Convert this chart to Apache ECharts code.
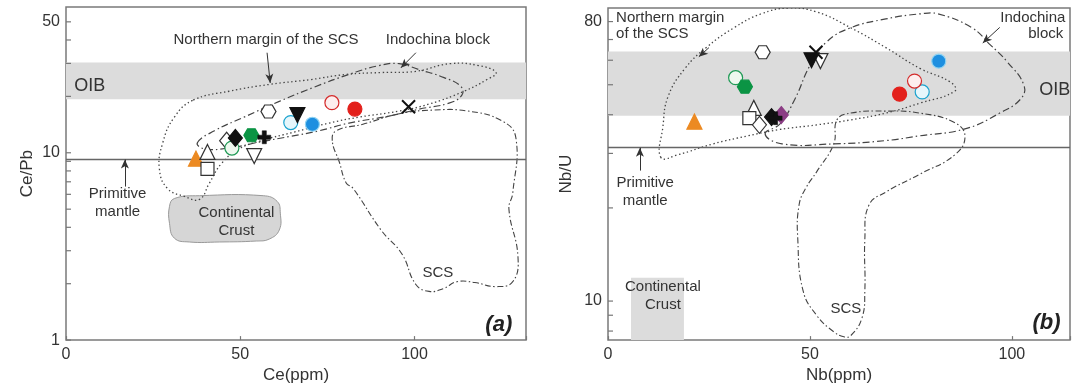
<!DOCTYPE html>
<html>
<head>
<meta charset="utf-8">
<script src="https://cdn.jsdelivr.net/npm/echarts@6/dist/echarts.min.js"></script>
<style>
  html, body { margin: 0; padding: 0; background: #fff; }
  #chart { width: 1078px; height: 389px; }
</style>
</head>
<body>
<div id="chart"></div>
<script>
// ---- sample groups (same order in both panels) ----
// Ce (ppm) and Ce/Pb for panel (a); null where a group is not plotted
const ce   = [37.3, 40.6, 40.6, 46.1, 47.6, 53.2, 54.0, 58.1, 64.5, 66.4, 70.7, 76.3, 82.9, 98.3, null, 48.6, 56.9];
const cePb = [9.3, 10.1, 8.2, 11.6, 10.6, 12.4, 9.6, 16.6, 14.5, 15.9, 14.2, 18.5, 17.1, 17.6, null, 12.0, 12.1];
// Nb (ppm) and Nb/U for panel (b)
const nb   = [21.4, 36.1, 35.0, 37.5, 31.6, 33.9, 52.6, 38.3, 77.8, 50.4, 81.9, 75.9, 72.2, 51.5, 42.9, 40.5, 41.5];
const nbU  = [38.0, 42.1, 39.0, 37.1, 52.7, 49.3, 59.6, 63.7, 47.4, 60.0, 59.6, 51.4, 46.6, 63.7, 39.9, 39.3, 39.0];

// ---- reference fields, panel (a): [Ce, Ce/Pb] ----
const northMarginA = [[36.5,19.1],[46.8,21.3],[58.6,23.2],[70.3,24.6],[80.4,26.2],[90.4,26.8],[100.4,27.2],[110.2,29.9],[118.5,29.2],[123.4,26.8],[120.8,24.6],[114.2,21.3],[104.2,18.2],[95.6,16.7],[84.1,15.5],[75.5,14.4],[65.5,12.9],[56.0,11.6],[49.7,10.5],[44.6,8.75],[41.1,6.86],[38.3,5.64],[34.0,5.85],[29.1,6.45],[26.8,8.2],[27.7,11.2],[31.1,15.5]];
const indochinaA = [[37.7,11.3],[42.6,13.1],[51.1,15.5],[61.2,18.8],[71.2,22.4],[81.2,26.2],[89.8,29.2],[95.6,29.9],[101.3,27.8],[108.5,25.2],[113.3,22.6],[113.6,20.3],[109.9,18.4],[101.3,17.1],[92.7,15.7],[81.2,14.4],[72.6,13.1],[64.0,12.2],[55.4,11.4],[46.8,10.6],[39.7,10.5]];
const scsA = [[76.4,11.6],[77.5,13.1],[85.2,14.2],[95.3,16.1],[105.3,16.9],[115.3,16.7],[125.1,14.8],[129.1,12.0],[128.2,6.1],[127.1,5.0],[129.7,2.78],[128.2,2.05],[123.4,1.93],[117.3,2.03],[112.2,2.05],[108.2,1.88],[104.2,1.82],[100.4,1.98],[96.4,2.88],[90.4,3.87],[82.4,6.45],[80.4,6.9],[78.4,8.96]];
const crustA = [[31.1,5.7],[38.3,5.9],[56.6,5.9],[60.6,5.5],[61.5,4.76],[61.2,3.87],[58.3,3.46],[54.6,3.38],[44.0,3.34],[35.4,3.34],[31.1,3.5],[29.7,4.2],[29.7,5.18]];
const oibA = [19.3, 30.3];     // Ce/Pb range of OIB
const pmA = 9.2;               // primitive mantle Ce/Pb

// ---- reference fields, panel (b): [Nb, Nb/U] ----
const northMarginB = [[13.1,29.1],[13.6,36.6],[14.9,45.9],[19.1,56.5],[24.3,65.9],[31.2,76.4],[37.9,84.7],[44.8,88.5],[51.7,85.9],[60.1,76.4],[68.8,65.9],[77.2,56.5],[84.9,50.9],[85.9,47.7],[77.2,43.6],[68.8,40.5],[60.1,38.5],[51.7,37.1],[42.3,35.8],[34.7,34.2],[26.0,32.2],[17.3,29.7]];
const indochinaB = [[38.9,34.7],[43.1,32.2],[55.9,32.2],[68.8,33.0],[77.2,34.2],[88.4,36.0],[97.0,40.5],[102.2,45.0],[103.0,49.8],[98.8,59.4],[94.6,67.4],[90.1,76.4],[81.7,84.7],[77.2,84.7],[68.8,81.6],[60.1,76.4],[54.2,68.9],[50.0,57.7],[46.3,45.0],[42.6,37.4]];
const scsB = [[60.1,40.5],[68.8,41.1],[77.2,40.5],[85.9,37.7],[88.4,34.0],[85.9,29.7],[77.2,25.7],[68.8,22.5],[64.6,20.4],[63.6,15.8],[63.6,10.8],[62.9,8.83],[60.1,7.73],[58.4,7.67],[55.9,7.96],[51.7,8.98],[48.3,10.8],[47.0,15.8],[47.3,20.4],[49.0,23.2],[51.7,26.2],[55.9,32.2],[56.7,38.5]];
const crustB = [[5.7, 11.9], [18.8, 11.9]];   // Nb range, upper Nb/U
const oibB = [39.7, 64.0];
const pmB = 31.3;

// ---- axis ticks ----
const xTicks = [0, 50, 100];
const yMajorA = [1, 10, 50];
const yMinorA = [2, 3, 4, 5, 6, 7, 8, 9, 20, 30, 40];
const yMajorB = [10, 80];
const yMinorB = [8, 9, 20, 30, 40, 50, 60, 70];

const FONT = '"Liberation Sans", Arial, sans-serif';
const INK = '#333';
const LINE = '#444';

// marker look of each group
const HEX = 'path://M2.9,0H8.7L11.6,5L8.7,10H2.9L0,5Z';
const PLUS = 'path://M3.4,0H6.6V3.4H10V6.6H6.6V10H3.4V6.6H0V3.4H3.4Z';
const CROSS = 'path://M0,0L10,10M10,0L0,10';
const looks = [
  { symbol: 'triangle', size: 15, fill: '#ec8a22', stroke: '#ec8a22' },
  { symbol: 'triangle', size: 15, fill: '#fff', stroke: '#333' },
  { symbol: 'rect', size: 13, fill: '#fff', stroke: '#333' },
  { symbol: 'diamond', size: [14, 17], fill: '#fff', stroke: '#333' },
  { symbol: 'circle', size: 14, fill: '#eef8ef', stroke: '#1f9a55' },
  { symbol: HEX, size: [15, 13], fill: '#0b9444', stroke: '#0b9444' },
  { symbol: 'triangle', size: 15, rotate: 180, fill: '#fff', stroke: '#333' },
  { symbol: HEX, size: [15, 13], fill: '#fff', stroke: '#333' },
  { symbol: 'circle', size: 14, fill: '#e6f6fb', stroke: '#1aa3cf' },
  { symbol: 'triangle', size: 15, rotate: 180, fill: '#111', stroke: '#111' },
  { symbol: 'circle', size: 14, fill: '#1e8fe0', stroke: '#8fd3f2' },
  { symbol: 'circle', size: 14, fill: '#fdeeee', stroke: '#d42a2a' },
  { symbol: 'circle', size: 14, fill: '#e3211c', stroke: '#e3211c' },
  { symbol: CROSS, size: 13, fill: 'rgba(0,0,0,0)', stroke: '#111', width: 2 },
  { symbol: 'diamond', size: [14, 17], fill: '#8b3d84', stroke: '#8b3d84' },
  { symbol: 'diamond', size: [14, 17], fill: '#111', stroke: '#111' },
  { symbol: PLUS, size: 13, fill: '#111', stroke: '#111', width: 0.5 }
];

function markerSeries(gi, xs, ys) {
  const out = [];
  looks.forEach((lk, i) => {
    if (xs[i] == null || ys[i] == null) return;
    out.push({
      type: 'scatter', xAxisIndex: gi, yAxisIndex: gi, z: 6, silent: true,
      symbol: lk.symbol, symbolSize: lk.size, symbolRotate: lk.rotate || 0,
      itemStyle: { color: lk.fill, borderColor: lk.stroke, borderWidth: lk.width || 1.2, opacity: 1 },
      data: [[xs[i], ys[i]]]
    });
  });
  return out;
}

function fieldSeries(gi, pts, style, z) {
  return {
    type: 'custom', coordinateSystem: 'cartesian2d', xAxisIndex: gi, yAxisIndex: gi,
    silent: true, clip: true, z: z || 3, data: pts, encode: { x: 0, y: 1 },
    renderItem(params, api) {
      if (params.dataIndex !== 0) return null;
      return { type: 'polygon', shape: { points: pts.map(p => api.coord(p)), smooth: 0.45 }, style };
    }
  };
}

function yTickSeries(gi, major, minor) {
  const vals = major.concat(minor);
  return {
    type: 'custom', coordinateSystem: 'cartesian2d', xAxisIndex: gi, yAxisIndex: gi,
    silent: true, clip: false, z: 8, data: vals.map(v => [0, v]), encode: { x: 0, y: 1 },
    renderItem(params, api) {
      const v = vals[params.dataIndex];
      const p = api.coord([0, v]);
      const kids = [{ type: 'line', shape: { x1: p[0], y1: p[1], x2: p[0] + 5, y2: p[1] },
                      style: { stroke: '#777', lineWidth: 1.2 } }];
      if (major.indexOf(v) >= 0) {
        kids.push({ type: 'text', x: p[0] - 6, y: p[1],
                    style: { text: String(v), align: 'right', verticalAlign: 'middle',
                             fontSize: 16, fontFamily: FONT, fill: INK } });
      }
      return { type: 'group', children: kids };
    }
  };
}

const dotted = { fill: 'none', stroke: LINE, lineWidth: 1.3, lineDash: [1.4, 2.6] };
const dashDot = { fill: 'none', stroke: LINE, lineWidth: 1.2, lineDash: [7, 3, 1.5, 3] };
const dashDotDot = { fill: 'none', stroke: LINE, lineWidth: 1.1, lineDash: [6, 2.5, 1.5, 2.5] };

function note(coord, text, extra) {
  return {
    coord, symbol: 'circle', symbolSize: 0,
    label: Object.assign({ show: true, position: 'inside', formatter: text, color: INK,
                           fontSize: 15, fontFamily: FONT, lineHeight: 18 }, extra || {})
  };
}
function arrow(a, b) {
  return [{ coord: a, symbol: 'none' }, { coord: b, symbol: 'arrow', symbolSize: [6, 9] }];
}
function hline(x0, x1, y) {
  return [{ coord: [x0, y], symbol: 'none', lineStyle: { color: '#666', width: 1.4 } },
          { coord: [x1, y], symbol: 'none' }];
}

const X_MAX_A = 132, X_MAX_B = 114.4;
const Y_A = [1, 60], Y_B = [7.48, 88.5];

function xAxis(gi, max, name) {
  return {
    type: 'value', gridIndex: gi, min: 0, max, interval: 50,
    name, nameLocation: 'middle', nameGap: 24,
    nameTextStyle: { fontSize: 17, fontFamily: FONT, color: INK },
    axisLine: { show: false }, splitLine: { show: false },
    axisTick: { inside: true, length: 4, lineStyle: { color: '#777', width: 1.2 } },
    axisLabel: { fontSize: 16, fontFamily: FONT, color: INK, margin: 6,
                 formatter: v => (xTicks.indexOf(v) >= 0 ? String(v) : '') }
  };
}
function yAxis(gi, range, name, gap) {
  return {
    type: 'log', logBase: 10, gridIndex: gi, min: range[0], max: range[1],
    name, nameLocation: 'middle', nameGap: gap,
    nameTextStyle: { fontSize: 17, fontFamily: FONT, color: INK },
    axisLine: { show: false }, axisTick: { show: false }, axisLabel: { show: false },
    splitLine: { show: false }, minorTick: { show: false }
  };
}

const option = {
  animation: false,
  backgroundColor: '#fff',
  textStyle: { fontFamily: FONT },
  grid: [
    { left: 66, top: 7, width: 460, height: 336, show: true, borderColor: '#7a7a7a', borderWidth: 1.5 },
    { left: 608, top: 8, width: 462, height: 335, show: true, borderColor: '#7a7a7a', borderWidth: 1.5 }
  ],
  xAxis: [xAxis(0, X_MAX_A, 'Ce(ppm)'), xAxis(1, X_MAX_B, 'Nb(ppm)')],
  yAxis: [yAxis(0, Y_A, 'Ce/Pb', 30), yAxis(1, Y_B, 'Nb/U', 33)],
  series: [
    // panel (a) background: OIB band, primitive mantle line, notes
    {
      type: 'scatter', xAxisIndex: 0, yAxisIndex: 0, data: [], z: 1, silent: true,
      markArea: { silent: true, itemStyle: { color: '#dcdcdc' },
                  data: [[{ xAxis: 0, yAxis: oibA[0] }, { xAxis: X_MAX_A, yAxis: oibA[1] }]] },
      markLine: { silent: true, label: { show: false },
                  lineStyle: { color: '#333', width: 1, type: 'solid' },
                  data: [hline(0, X_MAX_A, pmA),
                         arrow([57.7, 34.2], [58.6, 23.6]),
                         arrow([100.4, 34.2], [96.1, 28.4]),
                         arrow([16.9, 6.6], [16.9, pmA])] },
      markPoint: { silent: true, data: [
        note([6.8, 22.8], 'OIB', { fontSize: 18 }),
        note([57.4, 40.1], 'Northern margin of the SCS'),
        note([106.7, 40.1], 'Indochina block'),
        note([14.8, 5.4], 'Primitive\nmantle'),
        note([48.9, 4.26], 'Continental\nCrust'),
        note([106.7, 2.29], 'SCS'),
        note([124.2, 1.2], '(a)', { fontSize: 22, fontStyle: 'italic', fontWeight: 'bold', color: '#222' })
      ] }
    },
    fieldSeries(0, crustA, { fill: '#d6d6d6', stroke: '#9a9a9a', lineWidth: 1 }, 2),
    fieldSeries(0, northMarginA, dotted),
    fieldSeries(0, indochinaA, dashDot),
    fieldSeries(0, scsA, dashDotDot),
    yTickSeries(0, yMajorA, yMinorA),
    ...markerSeries(0, ce, cePb),

    // panel (b)
    {
      type: 'scatter', xAxisIndex: 1, yAxisIndex: 1, data: [], z: 1, silent: true,
      markArea: { silent: true, itemStyle: { color: '#dcdcdc' },
                  data: [[{ xAxis: 0, yAxis: oibB[0] }, { xAxis: X_MAX_B, yAxis: oibB[1] }],
                         [{ xAxis: crustB[0][0], yAxis: Y_B[0] }, { xAxis: crustB[1][0], yAxis: crustB[1][1] }]] },
      markLine: { silent: true, label: { show: false },
                  lineStyle: { color: '#333', width: 1, type: 'solid' },
                  data: [hline(0, X_MAX_B, pmB),
                         arrow([25.0, 65.9], [22.5, 61.6]),
                         arrow([97.0, 76.6], [92.8, 68.2]),
                         arrow([7.9, 26.4], [7.9, pmB])] },
      markPoint: { silent: true, data: [
        note([110.6, 48.2], 'OIB', { fontSize: 18 }),
        note([2.0, 82.2], 'Northern margin', { position: 'right', distance: 0 }),
        note([2.0, 72.8], 'of the SCS', { position: 'right', distance: 0 }),
        note([105.2, 82.2], 'Indochina'),
        note([108.4, 72.8], 'block'),
        note([9.2, 22.6], 'Primitive\nmantle'),
        note([13.6, 10.4], 'Continental\nCrust'),
        note([58.9, 9.45], 'SCS'),
        note([108.6, 8.47], '(b)', { fontSize: 22, fontStyle: 'italic', fontWeight: 'bold', color: '#222' })
      ] }
    },
    fieldSeries(1, northMarginB, dotted),
    fieldSeries(1, indochinaB, dashDot),
    fieldSeries(1, scsB, dashDotDot),
    yTickSeries(1, yMajorB, yMinorB),
    ...markerSeries(1, nb, nbU)
  ]
};

const chart = echarts.init(document.getElementById('chart'), null, { renderer: 'canvas' });
chart.setOption(option);
</script>
</body>
</html>
